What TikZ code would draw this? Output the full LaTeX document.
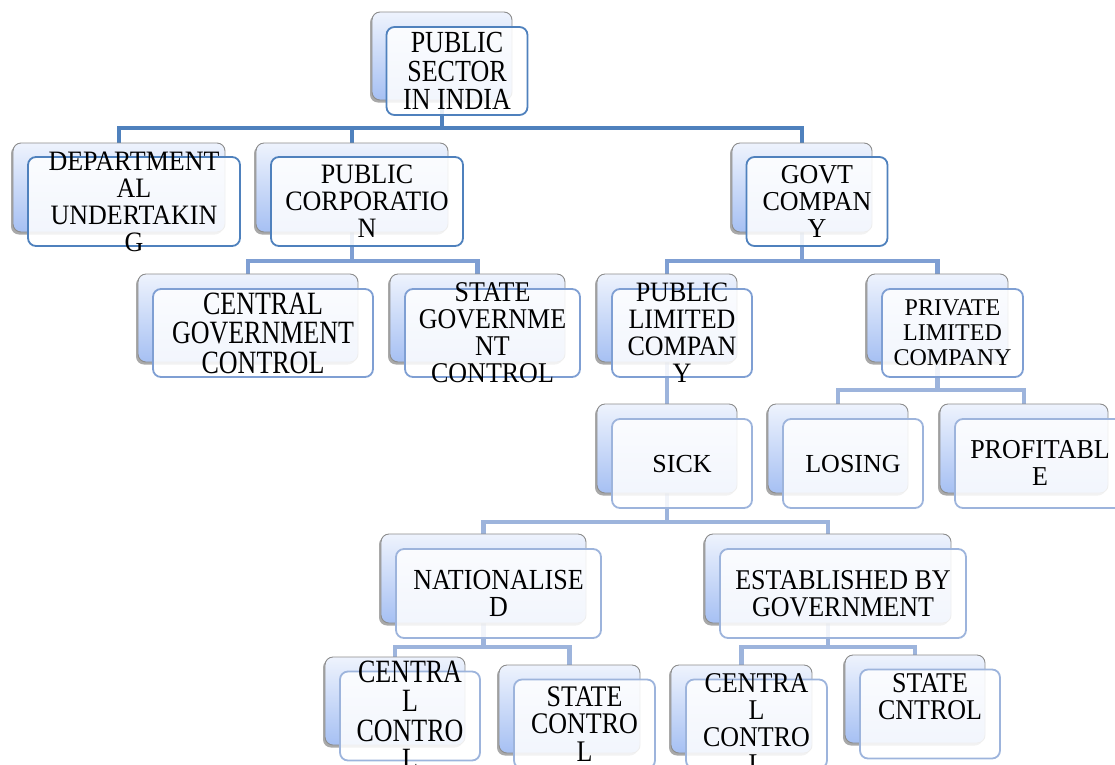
\documentclass[tikz,border=0pt]{standalone}
\usepackage{fontspec}
\setmainfont{Liberation Serif}
\usetikzlibrary{shadows,backgrounds}

\definecolor{lineA}{RGB}{79,129,189}
\definecolor{lineB}{RGB}{127,159,211}
\definecolor{lineC}{RGB}{157,180,220}
\definecolor{backTop}{RGB}{238,243,253}
\definecolor{backBot}{RGB}{166,192,243}
\definecolor{backEdge}{RGB}{140,140,140}

% stacked label, stretched upright by #1
\newcommand{\stk}[2]{%
  \pgfmathsetlengthmacro{\stkskip}{27pt/#1}%
  \scalebox{1}[#1]{\fontsize{26}{\stkskip}\selectfont\begin{tabular}{@{}c@{}}#2\end{tabular}}}

\tikzset{every picture/.style={line width=0.75pt}}
\tikzset{
  backbox/.style={draw=backEdge, line width=0.9pt, rounded corners=8pt,
    top color=backTop, bottom color=backBot,
    drop shadow={shadow xshift=-2pt, shadow yshift=-2.5pt, opacity=0.45, fill=black!75}},
  frontbox/.style={draw=#1, line width=1.8pt, rounded corners=8pt,
    fill=white, fill opacity=0.86},
  link/.style={draw=#1, line width=4.5pt},
  lbl/.style={align=center, text=black, inner sep=0pt, yshift=-4pt},
  lblsmall/.style={align=center, text=black, font=\fontsize{24}{25}\selectfont}
}

\begin{document}
\begin{tikzpicture}[x=1pt,y=1pt,yscale=-1,xscale=1]
	\useasboundingbox (0,0) rectangle (1115,764);

	% bus heights
	\coordinate (bus1) at (0,128);
	\coordinate (bus2) at (0,261);
	\coordinate (bus3) at (0,390);
	\coordinate (bus4) at (0,522);
	\coordinate (bus5) at (0,647);

	% back boxes
	\node[backbox, minimum width=140pt, minimum height=88pt] (top) at (442,56) {};
	\node[backbox, minimum width=212pt, minimum height=89pt] (dept) at (119,187.5) {};
	\node[backbox, minimum width=192pt, minimum height=89pt] (pcorp) at (352,187.5) {};
	\node[backbox, minimum width=140pt, minimum height=89pt] (govt) at (802,187.5) {};
	\node[backbox, minimum width=220pt, minimum height=88pt] (cgc) at (248,318) {};
	\node[backbox, minimum width=175pt, minimum height=88pt] (sgc) at (477.5,318) {};
	\node[backbox, minimum width=140pt, minimum height=88pt] (plc) at (667,318) {};
	\node[backbox, minimum width=141pt, minimum height=88pt] (prlc) at (937.5,318) {};
	\node[backbox, minimum width=140pt, minimum height=89pt] (sick) at (667,448.5) {};
	\node[backbox, minimum width=140pt, minimum height=89pt] (losing) at (838,448.5) {};
	\node[backbox, minimum width=168pt, minimum height=89pt] (profit) at (1024,448.5) {};
	\node[backbox, minimum width=205pt, minimum height=89pt] (nat) at (483.5,578.5) {};
	\node[backbox, minimum width=246pt, minimum height=89pt] (estab) at (828,578.5) {};
	\node[backbox, minimum width=140pt, minimum height=88pt] (ccA) at (395,701) {};
	\node[backbox, minimum width=141pt, minimum height=88pt] (scA) at (569.5,709) {};
	\node[backbox, minimum width=141pt, minimum height=88pt] (ccB) at (741.5,709) {};
	\node[backbox, minimum width=140pt, minimum height=88pt] (scB) at (915,699) {};

	%Straight Lines
	\begin{scope}[on background layer]
	\draw[link=lineA] (top) -- (top |- bus1) -| (dept);
	\draw[link=lineA] (top |- bus1) -| (pcorp);
	\draw[link=lineA] (top |- bus1) -| (govt);
	\draw[link=lineB] (pcorp) -- (pcorp |- bus2) -| (cgc);
	\draw[link=lineB] (pcorp |- bus2) -| (sgc);
	\draw[link=lineB] (govt) -- (govt |- bus2) -| (plc);
	\draw[link=lineB] (govt |- bus2) -| (prlc);
	\draw[link=lineC] (plc) -- (sick);
	\draw[link=lineC] (prlc) -- (prlc |- bus3) -| (losing);
	\draw[link=lineC] (prlc |- bus3) -| (profit);
	\draw[link=lineC] (sick) -- (sick |- bus4) -| (nat);
	\draw[link=lineC] (sick |- bus4) -| (estab);
	\draw[link=lineC] (nat) -- (nat |- bus5) -| (ccA);
	\draw[link=lineC] (nat |- bus5) -| (scA);
	\draw[link=lineC] (estab) -- (estab |- bus5) -| (ccB);
	\draw[link=lineC] (estab |- bus5) -| (scB);
	\end{scope}

	% front boxes
	\node[frontbox=lineA, minimum width=141pt, minimum height=88pt] (top-f) at ([shift={(15,15)}]top) {};
	\node[frontbox=lineA, minimum width=212pt, minimum height=89pt] (dept-f) at ([shift={(15,14)}]dept) {};
	\node[frontbox=lineA, minimum width=192pt, minimum height=89pt] (pcorp-f) at ([shift={(15,14)}]pcorp) {};
	\node[frontbox=lineA, minimum width=141pt, minimum height=89pt] (govt-f) at ([shift={(15,14)}]govt) {};
	\node[frontbox=lineB, minimum width=220pt, minimum height=88pt] (cgc-f) at ([shift={(15,15)}]cgc) {};
	\node[frontbox=lineB, minimum width=175pt, minimum height=88pt] (sgc-f) at ([shift={(15,15)}]sgc) {};
	\node[frontbox=lineB, minimum width=140pt, minimum height=88pt] (plc-f) at ([shift={(15,15)}]plc) {};
	\node[frontbox=lineB, minimum width=141pt, minimum height=88pt] (prlc-f) at ([shift={(15,15)}]prlc) {};
	\node[frontbox=lineC, minimum width=140pt, minimum height=89pt] (sick-f) at ([shift={(15,15)}]sick) {};
	\node[frontbox=lineC, minimum width=140pt, minimum height=89pt] (losing-f) at ([shift={(15,15)}]losing) {};
	\node[frontbox=lineC, minimum width=168pt, minimum height=89pt] (profit-f) at ([shift={(15,15)}]profit) {};
	\node[frontbox=lineC, minimum width=205pt, minimum height=89pt] (nat-f) at ([shift={(15,15)}]nat) {};
	\node[frontbox=lineC, minimum width=246pt, minimum height=89pt] (estab-f) at ([shift={(15,15)}]estab) {};
	\node[frontbox=lineC, minimum width=140pt, minimum height=89pt] (ccA-f) at ([shift={(15,15)}]ccA) {};
	\node[frontbox=lineC, minimum width=141pt, minimum height=89pt] (scA-f) at ([shift={(15,15)}]scA) {};
	\node[frontbox=lineC, minimum width=141pt, minimum height=89pt] (ccB-f) at ([shift={(15,15)}]ccB) {};
	\node[frontbox=lineC, minimum width=140pt, minimum height=89pt] (scB-f) at ([shift={(15,15)}]scB) {};

	% Text Node
	\node[lbl] (top-t) at (top-f) {\stk{1.18}{PUBLIC\\SECTOR\\IN INDIA}};
	\node[lbl] (dept-t) at (dept-f) {\stk{1.08}{DEPARTMENT\\AL\\UNDERTAKIN\\G}};
	\node[lbl] (pcorp-t) at (pcorp-f) {\stk{1.08}{PUBLIC\\CORPORATIO\\N}};
	\node[lbl] (govt-t) at (govt-f) {\stk{1.05}{GOVT\\COMPAN\\Y}};
	\node[lbl] (cgc-t) at (cgc-f) {\stk{1.25}{CENTRAL\\GOVERNMENT\\CONTROL}};
	\node[lbl] (sgc-t) at (sgc-f) {\stk{1.1}{STATE\\GOVERNME\\NT\\CONTROL}};
	\node[lbl] (plc-t) at (plc-f) {\stk{1.08}{PUBLIC\\LIMITED\\COMPAN\\Y}};
	\node[lblsmall] (prlc-t) at (prlc-f) {PRIVATE\\LIMITED\\COMPANY};
	\node[lbl] (sick-t) at (sick-f) {\stk{1}{SICK}};
	\node[lbl] (losing-t) at (losing-f) {\stk{1}{LOSING}};
	\node[lbl] (profit-t) at (1040,463) {\stk{1.05}{PROFITABL\\E}};
	\node[lbl] (nat-t) at (nat-f) {\stk{1.12}{NATIONALISE\\D}};
	\node[lbl] (estab-t) at (estab-f) {\stk{1.1}{ESTABLISHED BY\\GOVERNMENT}};
	\node[lbl] (ccA-t) at (ccA-f) {\stk{1.25}{CENTRA\\L\\CONTRO\\L}};
	\node[lbl] (scA-t) at (scA-f) {\stk{1.15}{STATE\\CONTRO\\L}};
	\node[lbl] (ccB-t) at (ccB-f) {\stk{1.1}{CENTRA\\L\\CONTRO\\L}};
	\node[lbl] (scB-t) at (930,697) {\stk{1.1}{STATE\\CNTROL}};

\end{tikzpicture}
\end{document}
